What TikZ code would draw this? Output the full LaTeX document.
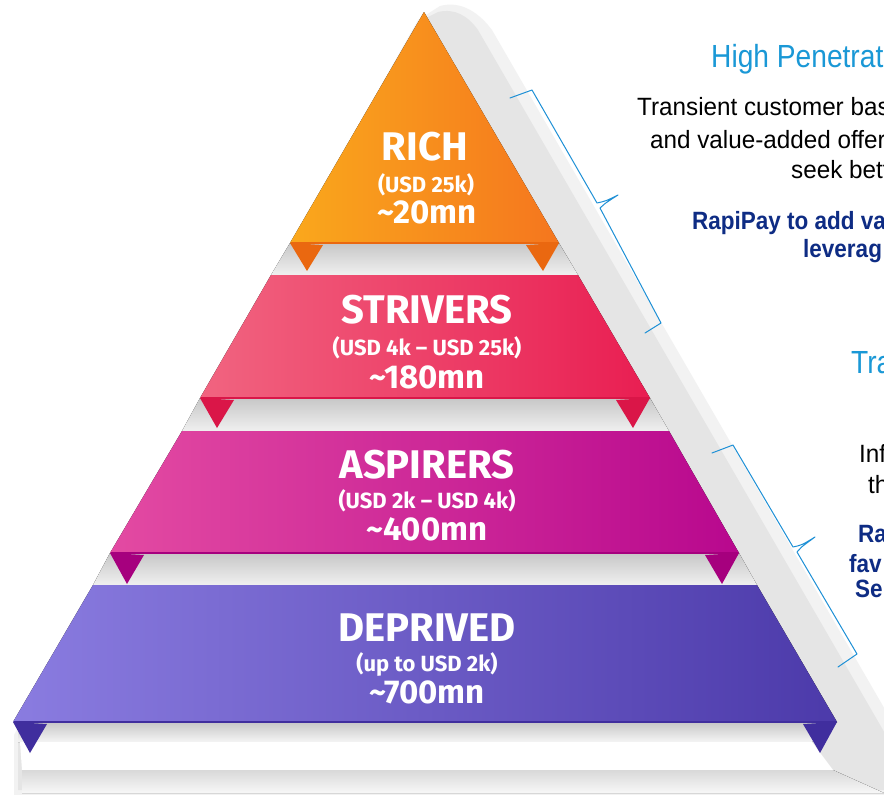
\documentclass[tikz,border=0pt]{standalone}
\usepackage{fontspec}
\newfontfamily\pyr{Fira Sans}
\newfontfamily\rt{Liberation Sans}[FakeStretch=0.88]
\newfontfamily\rtb{Liberation Sans}[FakeStretch=0.97]
\newfontfamily\rtc{Liberation Sans}[FakeStretch=0.9]
\definecolor{richL}{RGB}{250,168,28}
\definecolor{richR}{RGB}{245,118,30}
\definecolor{richT}{RGB}{234,104,16}
\definecolor{strL}{RGB}{241,100,128}
\definecolor{strR}{RGB}{233,30,82}
\definecolor{strT}{RGB}{218,22,72}
\definecolor{aspL}{RGB}{227,74,162}
\definecolor{aspR}{RGB}{184,8,142}
\definecolor{aspT}{RGB}{166,0,126}
\definecolor{depL}{RGB}{138,124,224}
\definecolor{depR}{RGB}{76,58,170}
\definecolor{depT}{RGB}{64,46,158}
\definecolor{hiblue}{RGB}{26,152,214}
\definecolor{navy}{RGB}{14,44,132}
\definecolor{bracecol}{RGB}{30,144,214}
\tikzset{
  gapstrip/.style={top color=black!22, bottom color=black!6},
  ttl/.style={text=white, anchor=base, inner sep=0pt, font=\pyr\bfseries\fontsize{40}{40}\selectfont},
  sub/.style={text=white, anchor=base, inner sep=0pt, font=\pyr\bfseries\fontsize{22}{22}\selectfont},
  num/.style={text=white, anchor=base, inner sep=0pt, font=\pyr\bfseries\fontsize{33}{33}\selectfont},
  head/.style={text=hiblue, anchor=base west, inner sep=0pt, font=\rt\fontsize{32}{32}\selectfont},
  body/.style={text=black, anchor=base west, inner sep=0pt, font=\rtb\fontsize{25}{25}\selectfont},
  bold/.style={text=navy, anchor=base west, inner sep=0pt, font=\rtc\bfseries\fontsize{25}{25}\selectfont},
  bracestyle/.style={draw=bracecol, line width=1pt, line join=round, line cap=round}
}
\begin{document}
\begin{tikzpicture}[x=1pt,y=-1pt]
\useasboundingbox (0,0) rectangle (884,795);
\clip (0,0) rectangle (884,795);
\fill[white] (0,0) rectangle (884,795);

% backdrop (3D side of the pyramid)
\fill[black!5] (418,20) -- (440,6) .. controls (462,0) and (480,14) .. (492,30) -- (920,770) -- (920,795) -- (14,795) -- (14,735) -- cycle;
\fill[black!10] (418,22) -- (438,12) .. controls (455,8) and (468,16) .. (478,30) -- (905,768) -- (905,790) -- (18,790) -- (18,735) -- cycle;

% gaps between layers
\fill[gapstrip] (290,243) -- (559,243) -- (578,275) -- (271,275) -- cycle;
\fill[gapstrip] (200,398) -- (650,398) -- (669,431) -- (182,431) -- cycle;
\fill[gapstrip] (110,553) -- (739,553) -- (757,585) -- (93,585) -- cycle;
% base slab
\fill[top color=black!22, bottom color=black!4] (18,722) -- (837,722) -- (812,742) -- (18,742) -- cycle;
\fill[white] (20,742) -- (812,742) -- (833,770) -- (22,770) -- cycle;
\fill[top color=black!15, bottom color=black!3] (22,770) -- (833,770) -- (884,793) -- (22,793) -- cycle;

% RICH
\fill[richT] (290,243) -- (323,245) -- (307,271) -- cycle;
\fill[richT] (526,245) -- (559,243) -- (543,271) -- cycle;
\fill[left color=richL, right color=richR] (424,12) -- (559,243) -- (290,243) -- cycle;
\draw[richT, line width=1.2pt] (291,243) -- (558,243);

% STRIVERS
\fill[strT] (200,398) -- (234,400) -- (217,428) -- cycle;
\fill[strT] (616,400) -- (650,398) -- (633,428) -- cycle;
\fill[left color=strL, right color=strR] (271,275) -- (578,275) -- (650,398) -- (200,398) -- cycle;
\draw[strT, line width=1.2pt] (201,398) -- (649,398);

% ASPIRERS
\fill[aspT] (110,553) -- (144,555) -- (127,584) -- cycle;
\fill[aspT] (705,555) -- (739,553) -- (722,584) -- cycle;
\fill[left color=aspL, right color=aspR] (182,431) -- (669,431) -- (739,553) -- (110,553) -- cycle;
\draw[aspT, line width=1.2pt] (111,553) -- (738,553);

% DEPRIVED
\fill[depT] (13,722) -- (47,724) -- (30,753) -- cycle;
\fill[depT] (803,724) -- (837,722) -- (820,753) -- cycle;
\fill[left color=depL, right color=depR] (93,585) -- (757,585) -- (837,722) -- (13,722) -- cycle;
\draw[depT, line width=1.2pt] (14,722) -- (836,722);

% pyramid texts
\node[ttl] (richT1) at (425,160) {RICH};
\node[sub] (richT2) at (426,192) {(USD 25k)};
\node[num] (richT3) at (427,223) {\char"7E 20mn};
\node[ttl] (strT1) at (427,323) {STRIVERS};
\node[sub] (strT2) at (427,355) {(USD 4k – USD 25k)};
\node[num] (strT3) at (427,388) {\char"7E 180mn};
\node[ttl] (aspT1) at (427,478) {ASPIRERS};
\node[sub] (aspT2) at (427,508) {(USD 2k – USD 4k)};
\node[num] (aspT3) at (427,540) {\char"7E 400mn};
\node[ttl] (depT1) at (427,641) {DEPRIVED};
\node[sub] (depT2) at (427,671) {(up to USD 2k)};
\node[num] (depT3) at (427,703) {\char"7E 700mn};

% braces
\coordinate (b1e1) at (510,98);
\coordinate (b1c1) at (532,90);
\coordinate (b1m1) at (597,203);
\coordinate (b1tip) at (618,195);
\coordinate (b1m2) at (600,208);
\coordinate (b1c2) at (661,323);
\coordinate (b1e2) at (645,333);
\draw[bracestyle] (b1e1) -- (b1c1) -- (b1m1) .. controls (606,201) .. (b1tip) .. controls (604,204) .. (b1m2) -- (b1c2) -- (b1e2);
\coordinate (b2e1) at (712,453);
\coordinate (b2c1) at (733,445);
\coordinate (b2m1) at (793,547);
\coordinate (b2tip) at (815,537);
\coordinate (b2m2) at (797,552);
\coordinate (b2c2) at (857,654);
\coordinate (b2e2) at (838,667);
\draw[bracestyle] (b2e1) -- (b2c1) -- (b2m1) .. controls (802,545) .. (b2tip) .. controls (800,548) .. (b2m2) -- (b2c2) -- (b2e2);

% right-hand texts (cut by the picture edge, as in the original)
\node[head] (h1) at (711,67) {High Penetrat};
\node[body] (t1) at (637,115) {Transient customer bas};
\node[body] (t2) at (650,148) {and value-added offer};
\node[body] (t3) at (791,178) {seek bett};
\node[bold] (r1) at (692,229) {RapiPay to add va};
\node[bold] (r2) at (803,257) {leverag};
\node[head] (h2) at (851,373) {Tra};
\node[body] (t4) at (859,462) {Inf};
\node[body] (t5) at (868,493) {th};
\node[bold] (r3) at (858,542) {Ra};
\node[bold] (r4) at (849,572) {fav};
\node[bold] (r5) at (855,597) {Ser};
\end{tikzpicture}
\end{document}
